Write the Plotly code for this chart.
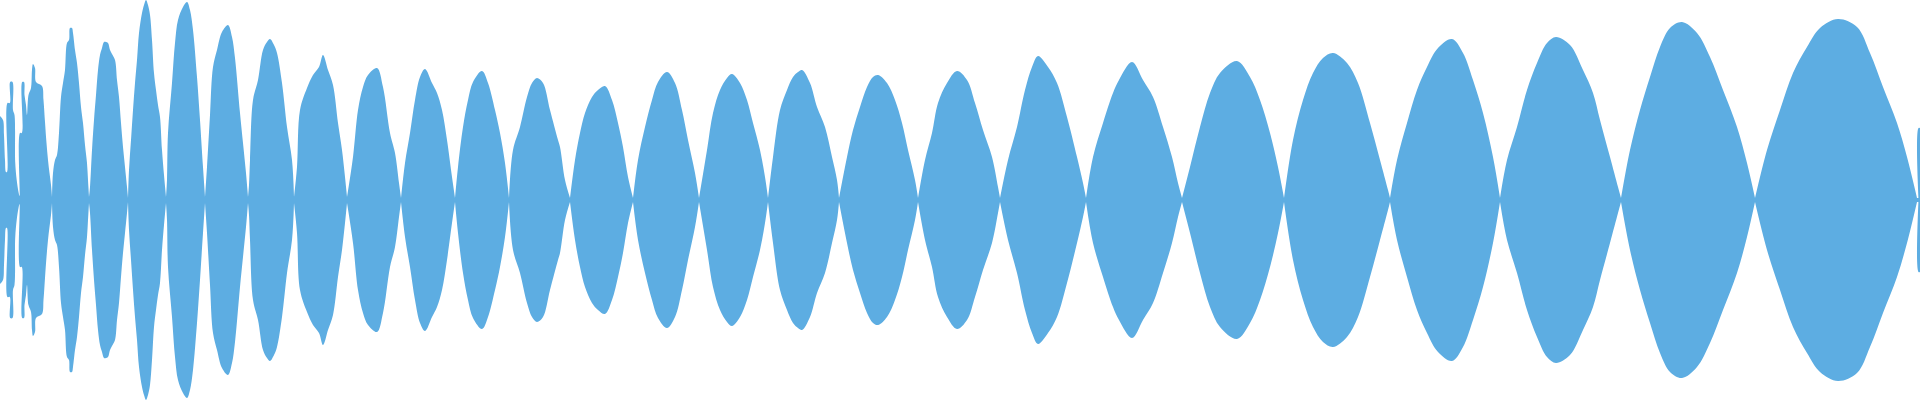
import plotly.graph_objects as go

# Envelope of the waveform: time position (sample columns) and peak amplitude
time_pos = [
    0, 3, 4, 5, 6, 7, 7.5, 9.8, 10.2, 12.5, 13, 14.5, 15.2, 16.7, 18.5, 19.5, 20, 21.8, 22.2, 24,
    24.5, 26, 27, 28.5, 31, 32, 33, 35, 36, 42, 43.5, 45, 46.5, 48, 49.5, 51, 52,
    53, 55, 57, 59, 61, 63, 65, 67, 69, 70, 72, 73, 75, 77, 79, 81, 83, 85, 87, 88, 89,
    90, 92, 94, 96, 98, 100, 102, 104, 106, 108, 110, 112, 115, 117, 119, 121, 123, 125, 127, 128,
    129, 131, 133, 135, 137, 139, 142, 144, 146, 148, 150, 152, 154, 156, 158, 160, 162, 164, 166,
    167, 168, 172, 175, 178, 183, 187, 190, 193, 197, 200, 203, 205,
    207, 210, 213, 217, 222, 228, 232, 235, 240, 243, 246, 248,
    249, 250, 253, 258, 263, 267, 270, 274, 277, 282, 287, 292, 294,
    297, 300, 307, 313, 319, 323, 328, 333, 338, 342, 345, 347,
    353, 358, 363, 368, 377, 383, 390, 395, 399, 401,
    405, 410, 415, 420, 425, 432, 437, 442, 447, 452, 455,
    458, 463, 468, 473, 482, 488, 495, 500, 505, 509,
    513, 520, 527, 532, 537, 543, 550, 558, 560, 565, 570,
    575, 580, 585, 592, 598, 605, 612, 618, 623, 628, 633,
    638, 645, 652, 658, 667, 675, 682, 688, 695, 699,
    707, 713, 720, 727, 732, 740, 747, 753, 760, 765, 768,
    773, 780, 787, 793, 798, 802, 810, 817, 825, 832, 837, 839,
    847, 853, 860, 867, 873, 878, 887, 895, 902, 908, 915, 918,
    925, 932, 938, 947, 957, 967, 975, 983, 992, 998, 1000,
    1008, 1017, 1025, 1032, 1038, 1048, 1057, 1067, 1077, 1083, 1086,
    1093, 1103, 1113, 1119, 1132, 1143, 1153, 1163, 1172, 1178, 1182,
    1190, 1200, 1210, 1220, 1237, 1250, 1260, 1270, 1278, 1284,
    1293, 1303, 1313, 1323, 1333, 1347, 1358, 1370, 1380, 1388, 1390,
    1397, 1407, 1417, 1427, 1438, 1452, 1463, 1473, 1483, 1493, 1500,
    1507, 1517, 1527, 1537, 1547, 1556, 1570, 1583, 1593, 1600, 1610, 1618, 1621,
    1630, 1640, 1650, 1660, 1670, 1682, 1697, 1710, 1723, 1737, 1747, 1755,
    1767, 1780, 1793, 1807, 1820, 1838, 1857, 1870, 1883, 1897, 1907, 1917,
    1918.4, 1918.5, 1920,
]
amplitude = [
    84, 80, 65, 40, 28, 28, 97, 97, 118, 118, 90, 85, 38, 20, 8, 4, 67, 67, 118, 118,
    105, 95, 85, 105, 112, 130, 136, 132, 118, 114, 100, 78, 57, 40, 27, 15, 3,
    27, 40, 45, 67, 103, 117, 130, 157, 160, 172, 172, 167, 150, 137, 117, 93, 77, 55, 37, 20, 3,
    13, 50, 80, 105, 130, 145, 152, 158, 158, 157, 150, 146, 140, 120, 103, 77, 53, 33, 13, 2,
    30, 60, 90, 117, 140, 167, 187, 195, 200, 195, 185, 160, 127, 110, 95, 83, 50, 25, 3,
    20, 67, 117, 157, 180, 193, 198, 190, 170, 123, 80, 33, 3,
    33, 85, 133, 150, 168, 175, 163, 142, 87, 57, 27, 3,
    15, 40, 100, 120, 150, 158, 161, 155, 147, 117, 73, 40, 3,
    33, 90, 112, 125, 133, 145, 130, 115, 77, 50, 23, 3,
    43, 90, 113, 125, 132, 113, 67, 47, 17, 2,
    37, 67, 100, 123, 131, 117, 107, 90, 60, 23, 2,
    33, 73, 100, 118, 129, 117, 90, 67, 37, 2,
    50, 73, 103, 117, 122, 117, 90, 60, 53, 20, 2,
    40, 67, 87, 103, 110, 114, 100, 77, 53, 23, 2,
    40, 73, 100, 118, 128, 117, 90, 60, 27, 2,
    50, 87, 110, 122, 126, 117, 100, 77, 50, 23, 2,
    43, 90, 110, 123, 128, 130, 117, 93, 73, 43, 20, 2,
    43, 70, 93, 113, 123, 125, 117, 100, 77, 50, 20, 2,
    40, 67, 97, 117, 129, 120, 97, 70, 43, 13, 2,
    40, 73, 110, 133, 144, 133, 117, 83, 43, 17, 2,
    43, 77, 107, 120, 138, 120, 103, 73, 43, 17, 2,
    33, 73, 107, 127, 139, 123, 100, 67, 33, 2,
    60, 100, 127, 142, 147, 137, 117, 77, 40, 10, 2,
    40, 77, 110, 133, 152, 161, 147, 120, 87, 43, 2,
    40, 73, 110, 137, 157, 163, 155, 130, 107, 80, 43, 13, 2,
    50, 90, 123, 153, 172, 178, 167, 143, 110, 73, 37, 2,
    50, 90, 127, 153, 172, 181, 173, 147, 113, 77, 43, 2,
    2, 72, 72,
]

COLOR = "#5DADE2"
NODE_LEVEL = 3  # envelope values at or below this are the pinch points between lobes

# split the envelope into lobes at the pinch points (shared by neighbouring lobes)
segments, current = [], []
for t, a in zip(time_pos, amplitude):
    current.append((t, a))
    if a <= NODE_LEVEL and len(current) > 1:
        segments.append(current)
        current = [(t, a)]
if len(current) > 1:
    segments.append(current)

x_env, y_up, y_dn = [], [], []
for seg in segments:
    x_env += [p[0] for p in seg] + [None]
    y_up += [p[1] for p in seg] + [None]
    y_dn += [-p[1] for p in seg] + [None]

fig = go.Figure()
for yv in (y_up, y_dn):
    fig.add_trace(
        go.Scatter(
            x=x_env,
            y=yv,
            mode="lines",
            fill="tozeroy",
            fillcolor=COLOR,
            connectgaps=False,
            line=dict(width=0, color=COLOR, shape="spline", smoothing=1),
            hoverinfo="skip",
            showlegend=False,
        )
    )

fig.update_layout(
    width=1920,
    height=400,
    margin=dict(l=0, r=0, t=0, b=0),
    paper_bgcolor="white",
    plot_bgcolor="white",
    xaxis=dict(range=[0, 1920], visible=False, fixedrange=True),
    yaxis=dict(range=[-200, 200], visible=False, fixedrange=True),
)

fig.write_html(
    "out.html",
    config={"displayModeBar": False},
    post_script="document.body.style.margin='0';document.body.style.overflow='hidden';",
)
